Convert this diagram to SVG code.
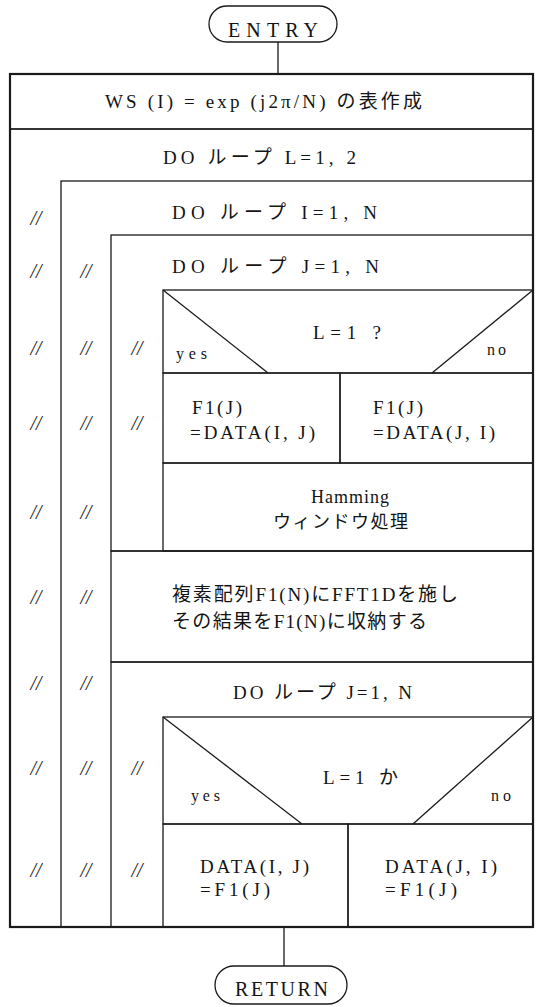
<svg xmlns="http://www.w3.org/2000/svg" width="542" height="1007" viewBox="0 0 542 1007">
<style>
.ln{fill:none;stroke:#1a1a1a;stroke-width:1.3}
.fr{fill:none;stroke:#1a1a1a;stroke-width:2.2}
.t{font-family:"Liberation Serif","Noto Sans CJK JP",serif;font-size:19px;fill:#141414}
.s{font-size:16px}
.b{font-size:20px}
.h{font-size:18px}
.m{font-family:"Liberation Serif",serif;font-style:italic;font-size:20px;fill:#222;text-anchor:middle}
</style>
<rect width="542" height="1007" fill="#ffffff"/>

<g id="connectors">
<line class="ln" x1="278" y1="42" x2="278" y2="74"/>
<line class="ln" x1="284" y1="927" x2="284" y2="966"/>
</g>

<g id="entry">
<rect class="ln" x="209" y="6" width="128" height="36" rx="18"/>
<text class="t b" x="228" y="37" textLength="90">ENTRY</text>
</g>

<g id="init">
<rect class="ln" x="10" y="74" width="523" height="55"/>
<text class="t" x="105" y="108" textLength="317">WS (I) = exp (j2π/N) の表作成</text>
</g>

<g id="loopL">
<rect class="ln" x="10" y="129" width="523" height="798"/>
<text class="t" x="163" y="164" textLength="193">DO ループ L=1, 2</text>
<text class="m" x="36" y="225">//</text>
<text class="m" x="36" y="278">//</text>
<text class="m" x="36" y="355">//</text>
<text class="m" x="36" y="430">//</text>
<text class="m" x="36" y="519">//</text>
<text class="m" x="36" y="604">//</text>
<text class="m" x="36" y="690">//</text>
<text class="m" x="36" y="775">//</text>
<text class="m" x="36" y="877">//</text>
</g>

<g id="loopI">
<rect class="ln" x="61" y="181" width="472" height="746"/>
<text class="t" x="172" y="219" textLength="205">DO ループ I=1, N</text>
<text class="m" x="86" y="278">//</text>
<text class="m" x="86" y="355">//</text>
<text class="m" x="86" y="430">//</text>
<text class="m" x="86" y="519">//</text>
<text class="m" x="86" y="604">//</text>
<text class="m" x="86" y="690">//</text>
<text class="m" x="86" y="775">//</text>
<text class="m" x="86" y="877">//</text>
</g>

<g id="loopJ1">
<rect class="ln" x="111" y="235" width="422" height="316"/>
<text class="t" x="172" y="273" textLength="207">DO ループ J=1, N</text>
<text class="m" x="137" y="355">//</text>
<text class="m" x="137" y="430">//</text>
</g>

<g id="decision1">
<rect class="ln" x="163" y="290" width="370" height="83"/>
<line class="ln" x1="163" y1="290" x2="268" y2="373"/>
<line class="ln" x1="533" y1="290" x2="432" y2="373"/>
<text class="t" x="313" y="339" textLength="68">L=1 ?</text>
<text class="t s" x="176" y="359" textLength="31">yes</text>
<text class="t s" x="487" y="355" textLength="19">no</text>
</g>

<g id="yes1">
<rect class="ln" x="163" y="373" width="177" height="90"/>
<text class="t" x="192" y="414" textLength="50">F1(J)</text>
<text class="t" x="190" y="439" textLength="125">=DATA(I, J)</text>
</g>

<g id="no1">
<rect class="ln" x="340" y="373" width="193" height="90"/>
<text class="t" x="373" y="414" textLength="50">F1(J)</text>
<text class="t" x="373" y="439" textLength="122">=DATA(J, I)</text>
</g>

<g id="hamming">
<rect class="ln" x="163" y="463" width="370" height="88"/>
<text class="t h" x="311" y="503" textLength="78">Hamming</text>
<text class="t h" x="273" y="528" textLength="135">ウィンドウ処理</text>
</g>

<g id="fft">
<rect class="ln" x="111" y="551" width="422" height="111"/>
<text class="t" x="172" y="601" textLength="286">複素配列F1(N)にFFT1Dを施し</text>
<text class="t" x="172" y="628" textLength="255">その結果をF1(N)に収納する</text>
</g>

<g id="loopJ2">
<rect class="ln" x="111" y="662" width="422" height="265"/>
<text class="t" x="233" y="699" textLength="179">DO ループ J=1, N</text>
<text class="m" x="137" y="775">//</text>
<text class="m" x="137" y="877">//</text>
</g>

<g id="decision2">
<rect class="ln" x="163" y="717" width="370" height="107"/>
<line class="ln" x1="163" y1="717" x2="302" y2="824"/>
<line class="ln" x1="533" y1="717" x2="413" y2="824"/>
<text class="t" x="323" y="784" textLength="75">L=1 か</text>
<text class="t s" x="191" y="801" textLength="29">yes</text>
<text class="t s" x="491" y="801" textLength="20">no</text>
</g>

<g id="yes2">
<rect class="ln" x="163" y="824" width="185" height="103"/>
<text class="t" x="200" y="873" textLength="109">DATA(I, J)</text>
<text class="t" x="200" y="896" textLength="70">=F1(J)</text>
</g>

<g id="no2">
<rect class="ln" x="348" y="824" width="185" height="103"/>
<text class="t" x="385" y="873" textLength="112">DATA(J, I)</text>
<text class="t" x="385" y="896" textLength="72">=F1(J)</text>
</g>

<g id="frame">
<rect class="fr" x="10" y="74" width="523" height="853"/>
</g>

<g id="return">
<rect class="ln" x="215" y="966" width="132" height="38" rx="19"/>
<text class="t b" x="235" y="996" textLength="93">RETURN</text>
</g>
</svg>
